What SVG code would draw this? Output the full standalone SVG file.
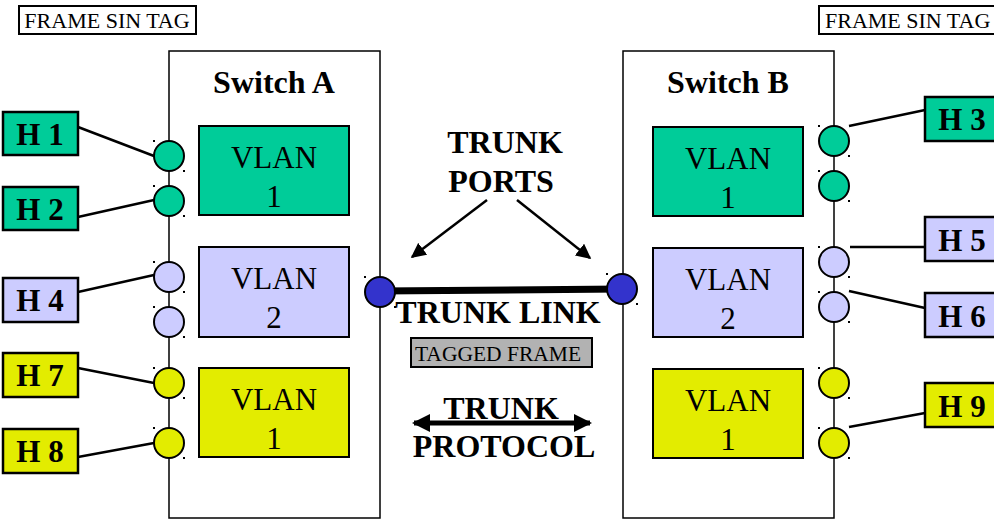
<svg xmlns="http://www.w3.org/2000/svg" width="994" height="519" viewBox="0 0 994 519">
  <style>
    .bold { font-family: "Liberation Serif", "Times New Roman", serif; font-weight: bold; fill: #000; }
    .reg { font-family: "Liberation Serif", "Times New Roman", serif; fill: #000; }
    .sw { fill: #fff; stroke: #000; stroke-width: 1.5; }
    .vlan { stroke: #000; stroke-width: 2; }
    .host { stroke: #000; stroke-width: 2.5; }
    .port { stroke: #000; stroke-width: 2; }
    .g { fill: #00CC99; }
    .p { fill: #CCCCFF; }
    .y { fill: #E3EC00; }
    .b { fill: #3333CC; }
    .wire { stroke: #000; stroke-width: 2.5; fill: none; }
    .arrow { stroke: #000; stroke-width: 2.5; fill: none; }
    .dot { fill: #000; }
  </style>
  <defs>
    <marker id="head" viewBox="0 0 10 10" refX="9" refY="5" markerWidth="6" markerHeight="6" orient="auto" markerUnits="strokeWidth">
      <path d="M0,0 L10,5 L0,10 z" fill="#000"/>
    </marker>
    <!-- selection handle pair shown at each port -->
    <g id="handles">
      <rect x="-16" y="-16" width="2" height="2" class="dot"/>
      <rect x="14" y="14" width="2" height="2" class="dot"/>
    </g>
  </defs>

  <rect width="994" height="519" fill="#fff"/>

  <!-- untagged frame labels -->
  <g id="frame-left">
    <rect x="19" y="6" width="177" height="28" fill="#fff" stroke="#000" stroke-width="2"/>
    <text x="107" y="28" class="reg" font-size="22" text-anchor="middle">FRAME SIN TAG</text>
  </g>
  <g id="frame-right">
    <rect x="819" y="6" width="185" height="28" fill="#fff" stroke="#000" stroke-width="2"/>
    <text x="825" y="28" class="reg" font-size="22">FRAME SIN TAG</text>
  </g>

  <!-- switch A -->
  <g id="switch-a">
    <rect x="169" y="51" width="211" height="467" class="sw"/>
    <text x="274" y="93" class="bold" font-size="32" text-anchor="middle">Switch A</text>
    <g id="a-vlan1">
      <rect x="199" y="126" width="150" height="89" class="vlan g"/>
      <text x="274" y="168" class="reg" font-size="31" text-anchor="middle">VLAN</text>
      <text x="274" y="207" class="reg" font-size="31" text-anchor="middle">1</text>
    </g>
    <g id="a-vlan2">
      <rect x="199" y="247" width="150" height="90" class="vlan p"/>
      <text x="274" y="289" class="reg" font-size="31" text-anchor="middle">VLAN</text>
      <text x="274" y="328" class="reg" font-size="31" text-anchor="middle">2</text>
    </g>
    <g id="a-vlan3">
      <rect x="199" y="368" width="150" height="89" class="vlan y"/>
      <text x="274" y="410" class="reg" font-size="31" text-anchor="middle">VLAN</text>
      <text x="274" y="449" class="reg" font-size="31" text-anchor="middle">1</text>
    </g>
  </g>

  <!-- switch B -->
  <g id="switch-b">
    <rect x="623" y="51" width="211" height="467" class="sw"/>
    <text x="728" y="93" class="bold" font-size="32" text-anchor="middle">Switch B</text>
    <g id="b-vlan1">
      <rect x="653" y="127" width="150" height="89" class="vlan g"/>
      <text x="728" y="169" class="reg" font-size="31" text-anchor="middle">VLAN</text>
      <text x="728" y="208" class="reg" font-size="31" text-anchor="middle">1</text>
    </g>
    <g id="b-vlan2">
      <rect x="653" y="248" width="150" height="89" class="vlan p"/>
      <text x="728" y="290" class="reg" font-size="31" text-anchor="middle">VLAN</text>
      <text x="728" y="329" class="reg" font-size="31" text-anchor="middle">2</text>
    </g>
    <g id="b-vlan3">
      <rect x="653" y="369" width="150" height="89" class="vlan y"/>
      <text x="728" y="411" class="reg" font-size="31" text-anchor="middle">VLAN</text>
      <text x="728" y="450" class="reg" font-size="31" text-anchor="middle">1</text>
    </g>
  </g>

  <!-- connectors -->
  <g id="connectors">
    <line x1="78" y1="127" x2="154" y2="156" class="wire"/>
    <line x1="78" y1="217" x2="154" y2="200" class="wire"/>
    <line x1="78" y1="292" x2="154" y2="275" class="wire"/>
    <line x1="78" y1="368" x2="154" y2="383" class="wire"/>
    <line x1="78" y1="457" x2="154" y2="443" class="wire"/>
    <line x1="849" y1="126" x2="925" y2="110" class="wire"/>
    <line x1="850" y1="247" x2="925" y2="247" class="wire"/>
    <line x1="849" y1="291" x2="925" y2="308" class="wire"/>
    <line x1="849" y1="427" x2="925" y2="413" class="wire"/>
    <!-- trunk link -->
    <line x1="380" y1="291" x2="622" y2="289" stroke="#000" stroke-width="7"/>
    <!-- trunk port pointers -->
    <line x1="487" y1="200" x2="412" y2="257" class="arrow" marker-end="url(#head)"/>
    <line x1="517" y1="200" x2="590" y2="258" class="arrow" marker-end="url(#head)"/>
    <!-- trunk protocol double arrow -->
    <line x1="414" y1="423" x2="590" y2="423" stroke="#000" stroke-width="5"/>
    <path d="M412,423 L430,414 L430,432 z" fill="#000"/>
    <path d="M592,423 L574,414 L574,432 z" fill="#000"/>
  </g>

  <!-- ports on switch A -->
  <g id="ports-a">
    <g transform="translate(169,156)"><circle r="15" class="port g"/><use href="#handles"/></g>
    <g transform="translate(169,201)"><circle r="15" class="port g"/><use href="#handles"/></g>
    <g transform="translate(169,277)"><circle r="15" class="port p"/><use href="#handles"/></g>
    <g transform="translate(169,322)"><circle r="15" class="port p"/><use href="#handles"/></g>
    <g transform="translate(169,383)"><circle r="15" class="port y"/><use href="#handles"/></g>
    <g transform="translate(169,443)"><circle r="15" class="port y"/><use href="#handles"/></g>
    <g transform="translate(380,292)"><circle r="15" class="port b"/><use href="#handles"/></g>
  </g>

  <!-- ports on switch B -->
  <g id="ports-b">
    <g transform="translate(834,141)"><circle r="15" class="port g"/><use href="#handles"/></g>
    <g transform="translate(834,186)"><circle r="15" class="port g"/><use href="#handles"/></g>
    <g transform="translate(834,262)"><circle r="15" class="port p"/><use href="#handles"/></g>
    <g transform="translate(834,307)"><circle r="15" class="port p"/><use href="#handles"/></g>
    <g transform="translate(834,383)"><circle r="15" class="port y"/><use href="#handles"/></g>
    <g transform="translate(834,443)"><circle r="15" class="port y"/><use href="#handles"/></g>
    <g transform="translate(622,289)"><circle r="15" class="port b"/><use href="#handles"/></g>
  </g>

  <!-- hosts -->
  <g id="host-h1"><rect x="3" y="112" width="75" height="43" class="host g"/><text x="40" y="145" class="bold" font-size="31" text-anchor="middle">H 1</text></g>
  <g id="host-h2"><rect x="3" y="187" width="75" height="43" class="host g"/><text x="40" y="220" class="bold" font-size="31" text-anchor="middle">H 2</text></g>
  <g id="host-h4"><rect x="3" y="278" width="75" height="44" class="host p"/><text x="40" y="311" class="bold" font-size="31" text-anchor="middle">H 4</text></g>
  <g id="host-h7"><rect x="3" y="353" width="75" height="44" class="host y"/><text x="40" y="386" class="bold" font-size="31" text-anchor="middle">H 7</text></g>
  <g id="host-h8"><rect x="3" y="429" width="75" height="44" class="host y"/><text x="40" y="462" class="bold" font-size="31" text-anchor="middle">H 8</text></g>
  <g id="host-h3"><rect x="925" y="97" width="80" height="44" class="host g"/><text x="962" y="130" class="bold" font-size="31" text-anchor="middle">H 3</text></g>
  <g id="host-h5"><rect x="925" y="217" width="80" height="44" class="host p"/><text x="962" y="251" class="bold" font-size="31" text-anchor="middle">H 5</text></g>
  <g id="host-h6"><rect x="925" y="293" width="80" height="44" class="host p"/><text x="962" y="327" class="bold" font-size="31" text-anchor="middle">H 6</text></g>
  <g id="host-h9"><rect x="925" y="383" width="80" height="44" class="host y"/><text x="962" y="417" class="bold" font-size="31" text-anchor="middle">H 9</text></g>

  <!-- trunk labels -->
  <g id="trunk-ports-label">
    <text x="505" y="153" class="bold" font-size="32" text-anchor="middle">TRUNK</text>
    <text x="501" y="192" class="bold" font-size="32" text-anchor="middle">PORTS</text>
  </g>
  <g id="trunk-link-label">
    <text x="498" y="323" class="bold" font-size="32" text-anchor="middle">TRUNK LINK</text>
  </g>
  <g id="tagged-frame">
    <rect x="411" y="338" width="181" height="29" fill="#B2B2B2" stroke="#000" stroke-width="2"/>
    <text x="498" y="361" class="reg" font-size="21.5" text-anchor="middle">TAGGED FRAME</text>
  </g>
  <g id="trunk-protocol-label">
    <text x="501" y="419" class="bold" font-size="32" text-anchor="middle">TRUNK</text>
    <text x="504" y="457" class="bold" font-size="32" text-anchor="middle">PROTOCOL</text>
  </g>
</svg>
